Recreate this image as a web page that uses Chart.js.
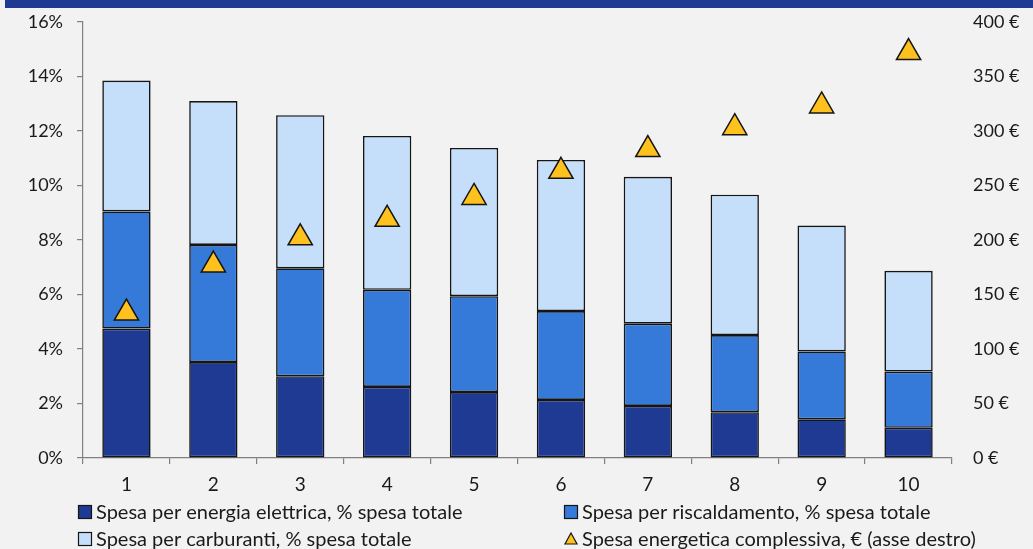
<!DOCTYPE html>
<html lang="it">
<head>
<meta charset="utf-8">
<title>Spesa energetica per decile</title>
<script src="https://cdn.jsdelivr.net/npm/chart.js@4.4.0/dist/chart.umd.min.js"></script>
<style>
html,body{margin:0;padding:0;background:#F2F2F2;}
#contenedor{position:relative;width:1033px;height:549px;}
</style>
</head>
<body onload="Inicio()">
<div id="contenedor"><canvas id="grafEnergia" width="1033" height="549"></canvas></div>
<script>
//	Datos por decil de gasto
var Decili=['1','2','3','4','5','6','7','8','9','10'];
var SpesaElettrica=[4.75,3.52,3.00,2.61,2.42,2.13,1.91,1.68,1.42,1.11];
var SpesaRiscaldamento=[4.30,4.30,3.96,3.56,3.52,3.26,3.02,2.83,2.49,2.06];
var SpesaCarburanti=[4.80,5.28,5.62,5.65,5.44,5.55,5.39,5.15,4.62,3.70];
var SpesaComplessiva=[133,177,202,219,239,263,283,303,323,372];

//	Marcas de los ejes
var TicksPerc=[0,2,4,6,8,10,12,14,16];
var TicksEuro=[0,50,100,150,200,250,300,350,400];

var Etiquetas=['Spesa per energia elettrica, % spesa totale',
	'Spesa per riscaldamento, % spesa totale',
	'Spesa per carburanti, % spesa totale',
	'Spesa energetica complessiva, € (asse destro)'];

var Colores=['#1F3A93','#3579D9','#C5DFFB','#FFC11E'];
var ColorBorde='#151515';
var ColorEje='#808080';

var myChart;

//	Banda superior de la cabecera
var cabecera={
	id:'cabecera',
	beforeDraw: function(chart)
	{
		var ctx=chart.ctx;
		ctx.save();
		ctx.fillStyle='#1F3A93';
		ctx.fillRect(5,0,1028,8);
		ctx.restore();
	}
};

//	Leyenda en dos columnas, debajo del eje
var leyenda={
	id:'leyenda',
	afterDraw: function(chart)
	{
		var ctx=chart.ctx;
		var cols=[78,564], filas=[512,539];
		ctx.save();
		ctx.font='20px Lato';
		ctx.textBaseline='middle';
		for (var i=0;i<chart.data.datasets.length;++i)
		{
			var ds=chart.data.datasets[i];
			var x=cols[i%2], y=filas[Math.floor(i/2)];
			ctx.lineWidth=1.2;
			ctx.strokeStyle=ColorBorde;
			ctx.fillStyle=ds.backgroundColor;
			if (ds.type=='line')
			{
				ctx.beginPath();
				ctx.moveTo(x+7,y-6);
				ctx.lineTo(x+13,y+5);
				ctx.lineTo(x+1,y+5);
				ctx.closePath();
				ctx.fill();
				ctx.stroke();
			}
			else
			{
				ctx.fillRect(x,y-7,14,14);
				ctx.strokeRect(x+0.5,y-6.5,13,13);
			}
			ctx.fillStyle='#1A1A1A';
			ctx.fillText(Etiquetas[i],x+18,y+1);
		}
		ctx.restore();
	}
};

//	Los ejes verticales no reservan espacio extra arriba ni abajo
function AjustaEjeVertical(a, ancho)
{
	a.width=ancho;
	a.paddingTop=0;
	a.paddingBottom=0;
}

function Inicio()
{
	PresentaGrafico();
}

function PresentaGrafico()
{
	Chart.defaults.font.family='Lato';
	Chart.defaults.font.size=19;
	Chart.defaults.color='#1A1A1A';

	var barra={type:'bar',stack:'s',yAxisID:'y',borderColor:ColorBorde,borderWidth:1.6,
		borderSkipped:false,barPercentage:0.556,categoryPercentage:1,order:1};

	var Datasets=[
		Object.assign({},barra,{label:Etiquetas[0],data:SpesaElettrica,backgroundColor:Colores[0]}),
		Object.assign({},barra,{label:Etiquetas[1],data:SpesaRiscaldamento,backgroundColor:Colores[1]}),
		Object.assign({},barra,{label:Etiquetas[2],data:SpesaCarburanti,backgroundColor:Colores[2]}),
		{type:'line',label:Etiquetas[3],data:SpesaComplessiva,yAxisID:'y1',showLine:false,
			pointStyle:'triangle',pointRadius:14,pointHoverRadius:14,pointBorderWidth:1.5,
			backgroundColor:Colores[3],borderColor:ColorBorde,order:0}
	];

	var ctx=document.getElementById('grafEnergia').getContext('2d');
	if (myChart)
		myChart.destroy();

	myChart=new Chart(ctx,{
		data:{labels:Decili,datasets:Datasets},
		plugins:[cabecera,leyenda],
		options:{
			responsive:false,
			animation:false,
			layout:{padding:{top:22,bottom:0,left:0,right:0}},
			plugins:{legend:{display:false},tooltip:{enabled:false}},
			scales:{
				x:{
					stacked:true,
					grid:{display:true,drawOnChartArea:false,offset:true,color:ColorEje,tickLength:6,lineWidth:1.2},
					border:{display:true,color:ColorEje,width:1.2},
					ticks:{padding:9},
					afterFit:function(a){a.height=91;}
				},
				y:{
					stacked:true,position:'left',min:0,max:16,
					afterBuildTicks:function(a){a.ticks=TicksPerc.map(function(v){return {value:v};});},
					grid:{display:true,drawOnChartArea:false,color:ColorEje,tickLength:6,lineWidth:1.2},
					border:{display:true,color:ColorEje,width:1.2},
					ticks:{padding:14,font:{size:18},callback:function(v){return v+'%';}},
					afterFit:function(a){AjustaEjeVertical(a,83);}
				},
				y1:{
					position:'right',min:0,max:400,
					afterBuildTicks:function(a){a.ticks=TicksEuro.map(function(v){return {value:v};});},
					grid:{display:false},
					border:{display:false},
					ticks:{padding:13,font:{size:18},callback:function(v){return v+' €';}},
					afterFit:function(a){AjustaEjeVertical(a,81);}
				}
			}
		}
	});
}
</script>
</body>
</html>
